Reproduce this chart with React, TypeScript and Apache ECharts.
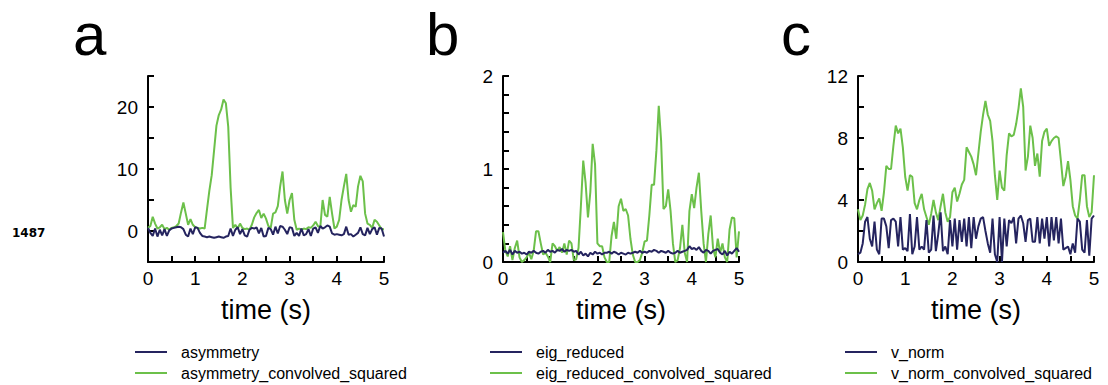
import React, { useEffect, useRef } from "react";
import * as echarts from "echarts";

// sampling grid: 0 .. 5 s, step 0.05 s
const TIME: number[] = Array.from({ length: 101 }, (_, i) => Math.round(i * 5) / 100);

const asymmetry = [
  0.5, -0.3, -0.8, 0.4, -0.9, 0.2, -0.7, 0.3, -0.8, 0.1,
  0.4, 0.5, 0.6, 0.7, 0.6, 0.3, -0.6, -0.9, 0.4, -0.5,
  0.6, 0.5, -0.3, -0.8, -0.9, -1.0, -0.9, -1.0, -1.1, -1.0,
  -0.9, -1.0, -1.1, -0.9, -0.8, 0.4, -0.8, 0.2, 0.6, -0.5,
  0.3, -0.7, -0.9, 0.2, 0.5, 0.4, 0.6, -0.4, 0.5, -0.9,
  -0.8, 0.5, 0.3, -0.6, 0.7, -0.4, 0.8, 0.7, 0.2, -0.5,
  0.6, 0.5, -0.8, -0.3, -0.8, 0.4, -0.7, -0.5, 0.3, -0.8,
  0.4, 0.6, -0.3, 0.8, 0.4, 0.6, 0.9, 0.7, -0.4, -0.6,
  -0.5, -0.6, -0.7, -0.5, 0.7, -0.6, -0.5, -0.9, -0.6, -0.3,
  0.6, -0.5, -0.7, 0.5, -0.5, 0.3, 0.6, -0.6, 0.5, 0.4,
  -0.9,
];
const asymmetryConvolvedSquared = [
  0.5, 0.8, 2.3, 1.2, 0.4, 0.6, 1.0, 0.3, 0.5, 0.2,
  0.5, 0.6, 0.8, 1.2, 3.0, 4.6, 2.8, 1.0, 1.9, 1.0,
  0.6, 0.5, 0.4, 0.5, 0.4, 3.5, 6.5, 9.0, 13.0, 17.0,
  18.7, 19.6, 21.2, 20.6, 16.8, 7.0, 0.5, 1.0, 0.4, 1.2,
  0.5, 0.3, 0.4, 0.2, 1.0, 2.2, 2.9, 3.4, 2.1, 2.8,
  2.0, 0.8, 0.5, 2.8, 3.0, 4.0, 7.2, 9.6, 5.0, 2.8,
  5.0, 6.1, 1.8, 0.2, 0.4, 0.2, 0.4, 0.3, 0.6, 0.5,
  0.9, 1.5, 0.8, 0.6, 5.0, 2.6, 2.3, 5.5, 2.8, 0.4,
  0.7, 1.8, 5.0, 7.2, 9.2, 5.0, 3.1, 4.2, 3.9, 7.2,
  8.9, 8.0, 2.8, 1.2, 1.0, 0.5, 1.8, 1.5, 0.9, 0.3,
  0.3,
];
const eigReduced = [
  0.1, 0.12, 0.09, 0.13, 0.08, 0.12, 0.1, 0.11, 0.09, 0.1,
  0.08, 0.11, 0.1, 0.12, 0.1, 0.09, 0.11, 0.12, 0.1, 0.13,
  0.11, 0.12, 0.1, 0.13, 0.12, 0.14, 0.11, 0.13, 0.12, 0.13,
  0.11, 0.12, 0.08, 0.11, 0.07, 0.09, 0.06, 0.1, 0.08, 0.11,
  0.09, 0.1, 0.08, 0.1, 0.1, 0.11, 0.09, 0.11, 0.1, 0.08,
  0.1, 0.09, 0.08, 0.1, 0.09, 0.1, 0.11, 0.1, 0.12, 0.1,
  0.11, 0.1, 0.12, 0.11, 0.13, 0.12, 0.1, 0.12, 0.11, 0.1,
  0.12, 0.1, 0.09, 0.1, 0.12, 0.1, 0.11, 0.12, 0.13, 0.17,
  0.14, 0.15, 0.13, 0.16, 0.12, 0.1, 0.13, 0.12, 0.09, 0.12,
  0.13, 0.14, 0.1, 0.08, 0.12, 0.07, 0.11, 0.09, 0.12, 0.15,
  0.11,
];
const eigReducedConvolvedSquared = [
  0.32, 0.12, 0.06, 0.17, 0.02, 0.15, 0.23, 0.05, 0.0, 0.02,
  0.05, 0.1, 0.03, 0.12, 0.33, 0.33, 0.2, 0.08, 0.1, 0.06,
  0.0, 0.2, 0.17, 0.12, 0.16, 0.1, 0.2, 0.08, 0.23, 0.2,
  0.02, 0.03, 0.15, 0.6, 1.09, 0.85, 0.48, 0.75, 1.27, 1.05,
  0.2, 0.17, 0.17, 0.05, 0.0, 0.0, 0.28, 0.43, 0.25, 0.6,
  0.68, 0.55, 0.57, 0.5, 0.25, 0.08, 0.0, 0.0, 0.02, 0.1,
  0.22, 0.23, 0.5, 0.83, 0.83, 1.2, 1.68, 1.3, 0.57, 0.6,
  0.78, 0.55, 0.2, 0.0, 0.02, 0.15, 0.4, 0.1, 0.0, 0.55,
  0.73, 0.58, 0.8, 0.96, 0.55, 0.2, 0.0, 0.3, 0.5, 0.15,
  0.05, 0.25, 0.1, 0.2, 0.05, 0.0, 0.35, 0.48, 0.47, 0.05,
  0.33,
];
const vNorm = [
  0.5, 0.6, 1.2, 2.6, 2.9, 1.5, 1.0, 2.6, 0.8, 0.5,
  2.8, 2.8, 2.3, 0.9, 2.7, 2.8, 2.6, 1.0, 2.9, 0.8,
  0.9, 0.7, 3.1, 0.5, 1.0, 2.9, 0.8, 1.0, 0.8, 2.7,
  0.6, 0.8, 3.0, 0.7, 1.8, 3.2, 0.7, 1.0, 0.5, 2.7,
  1.0, 2.8, 0.8, 2.7, 1.3, 2.8, 1.0, 2.9, 0.9, 2.9,
  1.5, 2.3, 2.8, 2.9, 2.0, 1.2, 0.6, 2.8, 0.5, 0.0,
  2.9, 0.0, 2.8, 1.0, 2.7, 2.5, 2.9, 1.2, 2.8, 3.0,
  2.5, 1.3, 2.7, 2.8, 1.3, 1.3, 2.9, 1.2, 2.8, 1.5,
  2.9, 1.0, 2.9, 1.4, 2.9, 1.2, 2.8, 0.8, 0.9, 1.0,
  0.5, 1.2, 0.6, 2.8, 2.6, 0.8, 0.6, 2.7, 0.4, 2.8,
  3.0,
];
const vNormConvolvedSquared = [
  3.4, 2.7, 3.0, 3.7, 4.7, 5.1, 4.6, 3.4, 3.8, 4.1,
  3.3, 4.5, 6.2, 6.0, 6.0, 7.5, 8.8, 8.3, 8.6, 7.4,
  5.5, 4.6, 5.6, 5.5, 3.8, 3.4, 4.0, 4.4, 3.4, 2.9,
  2.4, 3.1, 4.0, 3.2, 2.7, 3.6, 4.4, 3.2, 2.6, 2.9,
  4.5, 4.8, 3.9, 4.4, 5.0, 5.3, 7.4, 7.1, 6.8, 6.3,
  5.6, 7.0, 8.4, 9.5, 10.4, 9.5, 9.1, 7.8, 5.6, 4.0,
  5.9, 4.8, 4.6, 6.9, 8.3, 8.1, 8.2, 8.9, 9.9, 11.2,
  10.0, 5.9, 6.8, 8.8, 8.0, 6.2, 7.0, 5.5, 7.8, 8.4,
  8.6, 7.5, 7.8, 8.0, 8.1, 8.0, 6.5, 4.9, 5.5, 6.5,
  5.3, 3.6, 3.0, 2.8, 4.0, 5.6, 5.6, 3.6, 2.9, 3.2,
  5.6,
];

const PANEL_LETTERS = ["a", "b", "c"];
const SIDE_LABEL = "1487";
const X_NAME = "time (s)";
const Y_MIN = [-5, 0, 0];
const Y_MAX = [25, 2, 12];
const Y_STEP = [5, 0.2, 2];
const Y_LABEL_STEP = [10, 1, 4];
const SERIES_NAMES = [
  ["asymmetry", "asymmetry_convolved_squared"],
  ["eig_reduced", "eig_reduced_convolved_squared"],
  ["v_norm", "v_norm_convolved_squared"],
];
const SERIES_VALUES = [
  [asymmetry, asymmetryConvolvedSquared],
  [eigReduced, eigReducedConvolvedSquared],
  [vNorm, vNormConvolvedSquared],
];

const NAVY = "#25245f";
const GREEN = "#6cc04a";
const FONT = '"Liberation Sans", Arial, Helvetica, sans-serif';

const GRID_LEFT = [148, 503, 858];
const GRID_W = 236;
const GRID_TOP = 76;
const GRID_H = 186;
const LEGEND_LEFT = [135, 490, 845];

function isMultiple(v: number, step: number) {
  const r = v / step;
  return Math.abs(r - Math.round(r)) < 1e-6;
}

export default function App() {
  const ref = useRef<HTMLDivElement>(null);

  useEffect(() => {
    if (!ref.current) return;
    const chart = echarts.init(ref.current, undefined, { renderer: "svg" });

    const grid = GRID_LEFT.map((left) => ({
      left,
      top: GRID_TOP,
      width: GRID_W,
      height: GRID_H,
      containLabel: false,
    }));

    const xAxis = GRID_LEFT.map((_, i) => ({
      type: "value",
      gridIndex: i,
      min: 0,
      max: 5,
      interval: 0.5,
      name: X_NAME,
      nameLocation: "middle",
      nameGap: 34,
      nameTextStyle: { fontFamily: FONT, fontSize: 27, color: "#000" },
      axisLine: { show: true, onZero: false, lineStyle: { color: "#000", width: 2 } },
      axisTick: { show: true, inside: true, length: 6, lineStyle: { color: "#000", width: 2 } },
      axisLabel: {
        fontFamily: FONT,
        fontSize: 19,
        color: "#000",
        margin: 7,
        formatter: (v: number) => (isMultiple(v, 1) ? String(Math.round(v)) : ""),
      },
      splitLine: { show: false },
    }));

    const yAxis = GRID_LEFT.map((_, i) => ({
      type: "value",
      gridIndex: i,
      min: Y_MIN[i],
      max: Y_MAX[i],
      interval: Y_STEP[i],
      axisLine: { show: true, onZero: false, lineStyle: { color: "#000", width: 2 } },
      axisTick: { show: true, inside: true, length: 6, lineStyle: { color: "#000", width: 2 } },
      axisLabel: {
        fontFamily: FONT,
        fontSize: 19,
        color: "#000",
        margin: 10,
        formatter: (v: number) =>
          isMultiple(v, Y_LABEL_STEP[i]) ? String(Math.round(v)) : "",
      },
      splitLine: { show: false },
    }));

    const series: any[] = [];
    SERIES_NAMES.forEach((names, i) => {
      names.forEach((name, j) => {
        series.push({
          type: "line",
          name,
          xAxisIndex: i,
          yAxisIndex: i,
          data: TIME.map((t, k) => [t, SERIES_VALUES[i][j][k]]),
          showSymbol: false,
          symbol: "none",
          lineStyle: { color: j === 0 ? NAVY : GREEN, width: 2 },
          itemStyle: { color: j === 0 ? NAVY : GREEN },
          z: j === 0 ? 3 : 2,
        });
      });
    });

    const legend = SERIES_NAMES.map((names, i) => ({
      data: names,
      orient: "vertical",
      left: LEGEND_LEFT[i],
      top: 344,
      height: 40,
      padding: 0,
      icon: "rect",
      itemWidth: 32,
      itemHeight: 2,
      itemGap: 5,
      selectedMode: false,
      textStyle: {
        fontFamily: FONT,
        fontSize: 16,
        lineHeight: 16,
        color: "#000",
        padding: [0, 0, 0, 9],
      },
    }));

    const graphic: any[] = PANEL_LETTERS.map((letter, i) => ({
      type: "text",
      x: [73, 426, 781][i],
      y: 34,
      style: {
        text: letter,
        fontFamily: FONT,
        fontSize: 60,
        fill: "#000",
        verticalAlign: "middle",
      },
    }));
    graphic.push({
      type: "text",
      x: 12,
      y: 233,
      style: {
        text: SIDE_LABEL,
        fontFamily: '"DejaVu Sans", sans-serif',
        fontWeight: "bold",
        fontSize: 12,
        fill: "#000",
        verticalAlign: "middle",
      },
    });

    chart.setOption({
      animation: false,
      backgroundColor: "#fff",
      grid,
      xAxis,
      yAxis,
      series,
      legend,
      graphic,
    } as any);

    return () => chart.dispose();
  }, []);

  return (
    <div
      ref={ref}
      style={{ position: "absolute", left: 0, top: 0, width: 1108, height: 385 }}
    />
  );
}
